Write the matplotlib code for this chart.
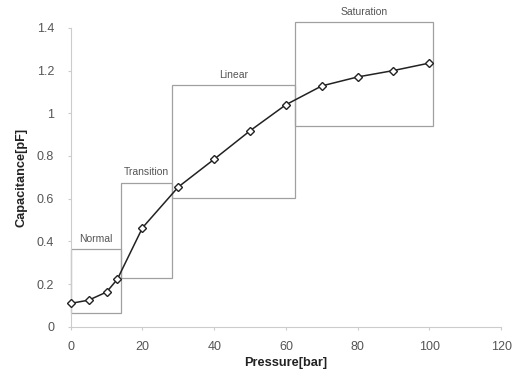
import matplotlib
matplotlib.use("Agg")
import matplotlib.pyplot as plt
from matplotlib.patches import Rectangle

pressure = [0, 5, 10, 13, 20, 30, 40, 50, 60, 70, 80, 90, 100]
capacitance = [0.11, 0.125, 0.163, 0.223, 0.464, 0.655, 0.785, 0.918, 1.04, 1.128, 1.17, 1.2, 1.235]

regions = ["Normal", "Transition", "Linear", "Saturation"]
region_x0 = [0, 14, 28.3, 62.5]
region_x1 = [14, 28.3, 62.5, 101]
region_y0 = [0.066, 0.23, 0.605, 0.942]
region_y1 = [0.364, 0.675, 1.13, 1.425]

xticks = [0, 20, 40, 60, 80, 100, 120]
yticks = [0, 0.2, 0.4, 0.6, 0.8, 1, 1.2, 1.4]
ytick_labels = ["0", "0.2", "0.4", "0.6", "0.8", "1", "1.2", "1.4"]

plt.rcParams['font.family'] = ['Liberation Sans', 'DejaVu Sans']

fig = plt.figure(figsize=(5.28, 3.71), dpi=100)
ax = fig.add_axes([0.134, 0.119, 0.815, 0.806])

for name, x0, x1, y0, y1 in zip(regions, region_x0, region_x1, region_y0, region_y1):
    ax.add_patch(Rectangle((x0, y0), x1 - x0, y1 - y0, fill=False,
                           edgecolor='#a0a0a0', linewidth=0.9, clip_on=False))
    ax.text((x0 + x1) / 2, y1 + 0.025, name, ha='center', va='bottom',
            fontsize=7.5, color='#555555', clip_on=False)

ax.plot(pressure, capacitance, color='#222222', linewidth=1.1, marker='D',
        markersize=4.5, markerfacecolor='white', markeredgecolor='#222222',
        markeredgewidth=1.0, zorder=5, clip_on=False)

ax.set_xlim(0, 120)
ax.set_ylim(0, 1.4)
ax.set_xticks(xticks)
ax.set_yticks(yticks)
ax.set_yticklabels(ytick_labels)
for s in ['top', 'right']:
    ax.spines[s].set_visible(False)
for s in ['left', 'bottom']:
    ax.spines[s].set_color('#cccccc')
    ax.spines[s].set_linewidth(0.8)
ax.tick_params(axis='both', colors='#cccccc', labelcolor='#555555', labelsize=9,
               length=2, width=0.8)
ax.tick_params(axis='x', pad=8)
ax.tick_params(axis='y', pad=10)

ax.set_xlabel('Pressure[bar]', fontsize=9.2, fontweight='bold', color='#222222', labelpad=3)
ax.set_ylabel('Capacitance[pF]', fontsize=9.2, fontweight='bold', color='#222222')
ax.yaxis.set_label_coords(-0.1, 0.5)

fig.savefig('out.png', dpi=100)
